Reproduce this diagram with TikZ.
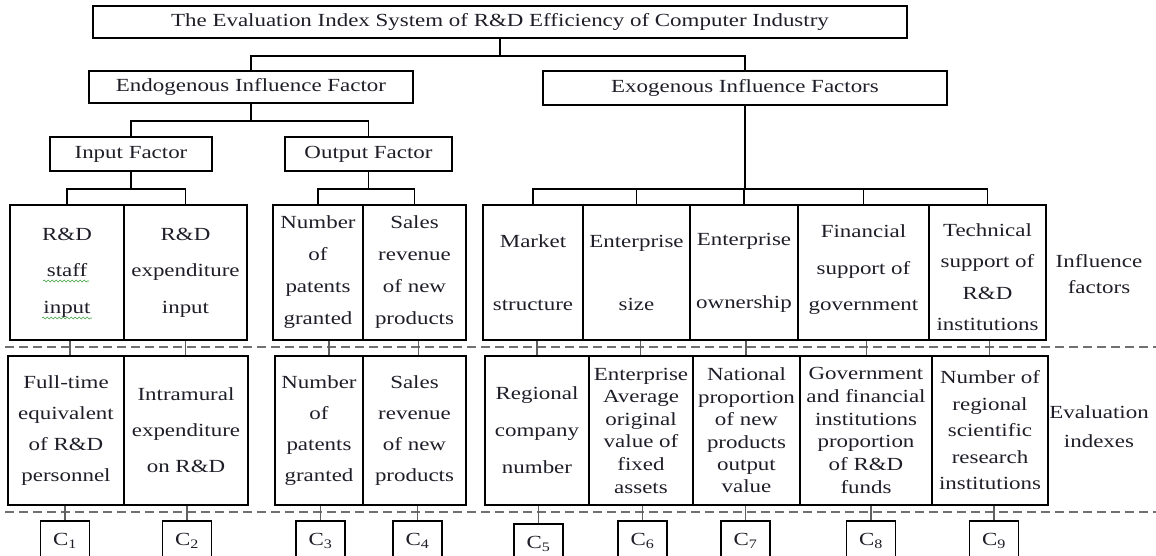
\documentclass[tikz,border=0pt]{standalone}
\usepackage{fontspec}
\setmainfont{Liberation Serif}[FakeStretch=1.24]
\usetikzlibrary{decorations.pathmorphing}
\definecolor{ink}{HTML}{1E1E28}
\definecolor{linkgray}{HTML}{606060}
\definecolor{sepgray}{HTML}{707070}
\definecolor{squiggle}{HTML}{3CA03C}

\begin{document}
\begin{tikzpicture}[x=1pt, y=-1pt,
  box/.style={draw=black, line width=1.3pt, inner sep=0pt, align=center,
              text=ink, font=\fontsize{18.5}{22}\selectfont},
  lsp/.style={font=\fontsize{18.5}{#1}\selectfont},
  lbl/.style={inner sep=0pt, align=center, text=ink},
  conn/.style={draw=black, line width=1.3pt},
  link/.style={draw=linkgray, line width=1.8pt},
  sep/.style={draw=sepgray, line width=2pt, dash pattern=on 9pt off 5pt},
  squig/.style={draw=squiggle, line width=0.6pt,
                decorate, decoration={snake, amplitude=0.9pt, segment length=4pt}}]

\useasboundingbox (0,0) rectangle (1156,556);
\clip (0,0) rectangle (1156,556);

% ---------- upper levels of the hierarchy ----------
\node[box, minimum width=814, minimum height=32] (title) at (500,22)
  {The Evaluation Index System of R\&D Efficiency of Computer Industry};
\node[box, minimum width=324, minimum height=32] (endo) at (251,87)
  {Endogenous Influence Factor};
\node[box, minimum width=404, minimum height=34] (exo) at (745,88)
  {Exogenous Influence Factors};
\node[box, minimum width=162, minimum height=34] (input) at (131,154)
  {Input Factor};
\node[box, minimum width=167, minimum height=34] (output) at (368.5,154)
  {Output Factor};

% ---------- influence factors (row 1) ----------
\node[box, lsp=36.5, minimum width=114, minimum height=135] (a1) at (67,272.5)
  {R\&D\\staff\\input};
\node[box, lsp=36.5, minimum width=123, minimum height=135] (a2) at (185.5,272.5)
  {R\&D\\expenditure\\input};
\node[box, lsp=32, minimum width=90, minimum height=135] (a3) at (318,272.5)
  {Number\\of\\patents\\granted};
\node[box, lsp=32, minimum width=103, minimum height=135] (a4) at (414.5,272.5)
  {Sales\\revenue\\of new\\products};
\node[box, lsp=63, minimum width=100, minimum height=135] (a5) at (533,272.5)
  {Market\\structure};
\node[box, lsp=63, minimum width=107, minimum height=135] (a6) at (636.5,272.5)
  {Enterprise\\size};
\node[box, lsp=63, minimum width=108, minimum height=135] (a7) at (744,272.5)
  {Enterprise\\ownership};
\node[box, minimum width=131, minimum height=135] (a8) at (863.5,272.5) {};
\node[lbl, lsp=36.5] (a8t) at (863.5,270)
  {Financial\\support of\\government};
\node[box, minimum width=117, minimum height=135] (a9) at (987.5,272.5) {};
\node[lbl, lsp=31.5] (a9t) at (987.5,277)
  {Technical\\support of\\R\&D\\institutions};

% ---------- evaluation indexes (row 2) ----------
\node[box, lsp=31, minimum width=116, minimum height=149] (b1) at (66,430.5)
  {Full-time\\equivalent\\of R\&D\\personnel};
\node[box, lsp=36, minimum width=124, minimum height=149] (b2) at (186,430.5)
  {Intramural\\expenditure\\on R\&D};
\node[box, lsp=31, minimum width=88, minimum height=149] (b3) at (319,430.5)
  {Number\\of\\patents\\granted};
\node[box, lsp=31, minimum width=103, minimum height=149] (b4) at (414.5,430.5)
  {Sales\\revenue\\of new\\products};
\node[box, lsp=37, minimum width=104, minimum height=149] (b5) at (537,430.5)
  {Regional\\company\\number};
\node[box, lsp=22.6, minimum width=104, minimum height=149] (b6) at (641,430.5)
  {Enterprise\\Average\\original\\value of\\fixed\\assets};
\node[box, lsp=22.4, minimum width=107, minimum height=149] (b7) at (746.5,430.5)
  {National\\proportion\\of new\\products\\output\\value};
\node[box, lsp=22.7, minimum width=132, minimum height=149] (b8) at (866,430.5)
  {Government\\and financial\\institutions\\proportion\\of R\&D\\funds};
\node[box, lsp=26.5, minimum width=116, minimum height=149] (b9) at (990,430.5)
  {Number of\\regional\\scientific\\research\\institutions};

% ---------- index codes ----------
\node[box, minimum width=49, minimum height=40] (c1) at (65,541)    {C\textsubscript{1}};
\node[box, minimum width=49, minimum height=40] (c2) at (187,541)   {C\textsubscript{2}};
\node[box, minimum width=49, minimum height=40] (c3) at (320.5,541) {C\textsubscript{3}};
\node[box, minimum width=49, minimum height=40] (c4) at (417.5,541) {C\textsubscript{4}};
\node[box, minimum width=49, minimum height=40] (c5) at (538.5,544) {C\textsubscript{5}};
\node[box, minimum width=49, minimum height=40] (c6) at (642.5,541) {C\textsubscript{6}};
\node[box, minimum width=49, minimum height=40] (c7) at (745.5,541) {C\textsubscript{7}};
\node[box, minimum width=49, minimum height=40] (c8) at (871,541)   {C\textsubscript{8}};
\node[box, minimum width=49, minimum height=40] (c9) at (994,541)   {C\textsubscript{9}};

% ---------- row captions ----------
\node[lbl, lsp=26] (inf) at (1099,274) {Influence\\factors};
\node[lbl, lsp=29] (evl) at (1099,427) {Evaluation\\indexes};

% ---------- tree connectors ----------
\coordinate (j0) at (500,56);
\coordinate (j1) at (251,121);
\coordinate (j2) at (131,189);
\coordinate (j3) at (368.5,189);
\coordinate (j4) at (745,189);

\draw[conn] (title.south) -- (j0);
\draw[conn] (endo.north) |- (j0) -| (exo.north);
\draw[conn] (endo.south) -- (j1);
\draw[conn] (input.north) |- (j1) -| (output.north);
\draw[conn] (input.south) -- (j2);
\draw[conn] (a1.north) |- (j2) -| (a2.north);
\draw[conn] (output.south) -- (j3);
\draw[conn] (a3.north) |- (j3) -| (a4.north);
\draw[conn] (exo.south) -- (j4);
\draw[conn] (a5.north) |- (j4) -| (a9.north);
\draw[conn] (a6.north) -- (a6.north |- j4);
\draw[conn] (a7.north) -- (a7.north |- j4);
\draw[conn] (a8.north) -- (a8.north |- j4);

% ---------- dashed level separators ----------
\draw[sep] (5,347) -- (1156,347);
\draw[sep] (5,512) -- (1156,512);

% ---------- links between factor and index rows ----------
\draw[link] ([xshift=3pt]a1.south)  -- ([xshift=3pt]a1.south |- b1.north);
\draw[link] (a2.south)              -- (a2.south |- b2.north);
\draw[link] ([xshift=11pt]a3.south) -- ([xshift=11pt]a3.south |- b3.north);
\draw[link] ([xshift=4pt]a4.south)  -- ([xshift=4pt]a4.south |- b4.north);
\draw[link] ([xshift=4pt]a5.south)  -- ([xshift=4pt]a5.south |- b5.north);
\draw[link] ([xshift=4pt]a6.south)  -- ([xshift=4pt]a6.south |- b6.north);
\draw[link] ([xshift=2pt]a7.south)  -- ([xshift=2pt]a7.south |- b7.north);
\draw[link] ([xshift=3pt]a8.south)  -- ([xshift=3pt]a8.south |- b8.north);
\draw[link] ([xshift=2pt]a9.south)  -- ([xshift=2pt]a9.south |- b9.north);

% ---------- links from indexes to codes ----------
\foreach \i in {1,...,9}
  \draw[link] (c\i.north |- b\i.south) -- (c\i.north);

% ---------- spell-check marks under two words ----------
\draw[squig] (43,281) -- (89,281);
\draw[squig] (42,318) -- (92,318);
\end{tikzpicture}
\end{document}
